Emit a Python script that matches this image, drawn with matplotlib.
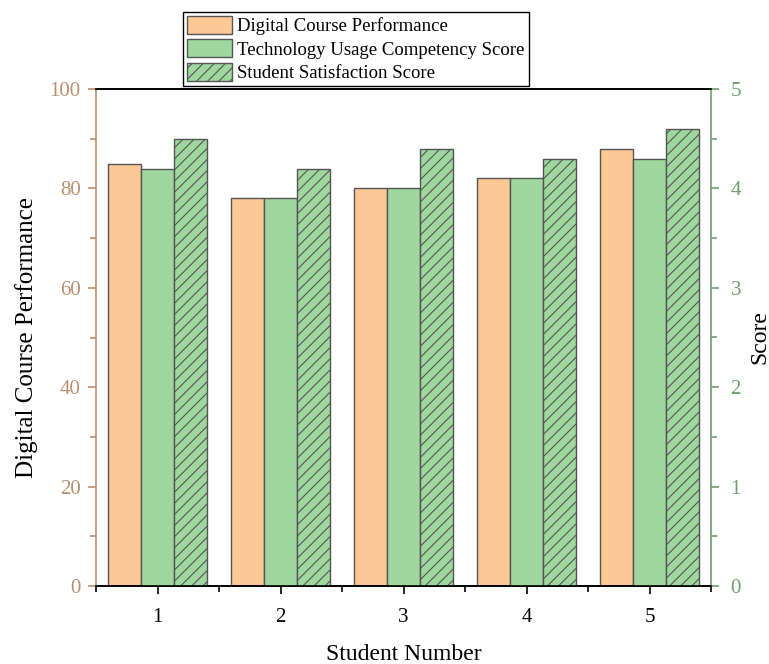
import numpy as np
import matplotlib.pyplot as plt
from matplotlib.ticker import MultipleLocator

plt.rcParams['font.family'] = ['Liberation Serif', 'DejaVu Serif']
plt.rcParams['hatch.linewidth'] = 0.8

students = [1, 2, 3, 4, 5]
course_perf = [85, 78, 80, 82, 88]
tech_score = [4.2, 3.9, 4.0, 4.1, 4.3]
satisfaction = [4.5, 4.2, 4.4, 4.3, 4.6]

c_orange = '#FCC896'
c_green = '#9FD79F'
c_edge = '#555555'
c_left = '#B89070'
c_right = '#6E9E6E'

fig = plt.figure(figsize=(7.69, 6.64), dpi=100)
ax = fig.add_axes([96 / 769, 1 - 586 / 664, 615 / 769, 497 / 664])
ax2 = ax.twinx()

x = np.array(students)
w = 0.8 / 3

b1 = ax.bar(x - w, course_perf, w, color=c_orange, edgecolor=c_edge, linewidth=1,
            label='Digital Course Performance')
b2 = ax2.bar(x, tech_score, w, color=c_green, edgecolor=c_edge, linewidth=1,
             label='Technology Usage Competency Score')
b3 = ax2.bar(x + w, satisfaction, w, color=c_green, edgecolor=c_edge, linewidth=1,
             hatch='///', label='Student Satisfaction Score')

ax.set_xlim(0.5, 5.5)
ax.set_ylim(0, 100)
ax2.set_ylim(0, 5)

ax.set_xticks(students)
ax.xaxis.set_minor_locator(MultipleLocator(0.5))
ax.yaxis.set_major_locator(MultipleLocator(20))
ax.yaxis.set_minor_locator(MultipleLocator(10))
ax2.yaxis.set_major_locator(MultipleLocator(1))
ax2.yaxis.set_minor_locator(MultipleLocator(0.5))

ax.tick_params(axis='x', which='major', direction='out', length=6, width=1.2, labelsize=15, pad=10)
ax.tick_params(axis='x', which='minor', direction='out', length=4, width=1.2)
ax.tick_params(axis='y', which='major', direction='out', length=6, width=1.2,
               colors=c_left, labelsize=15, pad=5)
ax.tick_params(axis='y', which='minor', direction='out', length=4, width=1.2, colors=c_left)
ax2.tick_params(axis='y', which='major', direction='out', length=6, width=1.2,
                colors=c_right, labelsize=15, pad=8)
ax2.tick_params(axis='y', which='minor', direction='out', length=4, width=1.2, colors=c_right)

for a in (ax, ax2):
    a.spines['top'].set_color('black')
    a.spines['bottom'].set_color('black')
    a.spines['top'].set_linewidth(1.2)
    a.spines['bottom'].set_linewidth(1.2)
ax2.spines['left'].set_color(c_left)
ax2.spines['left'].set_linewidth(1.2)
ax2.spines['right'].set_color(c_right)
ax2.spines['right'].set_linewidth(1.2)
ax.spines['left'].set_visible(False)
ax.spines['right'].set_visible(False)

ax.set_xlabel('Student Number', fontsize=17, labelpad=12)
ax.set_ylabel('Digital Course Performance', fontsize=18, labelpad=8)
ax2.set_ylabel('Score', fontsize=17, labelpad=6)

fig.legend(handles=[b1, b2, b3], loc='upper left',
           bbox_to_anchor=(183 / 769, 1 - 12 / 664), fontsize=13.5,
           frameon=True, fancybox=False, edgecolor='black', framealpha=1,
           borderpad=0.2, labelspacing=0.22, handlelength=2.4, handleheight=1.1,
           handletextpad=0.3, borderaxespad=0)

fig.savefig('out.png', dpi=100)
